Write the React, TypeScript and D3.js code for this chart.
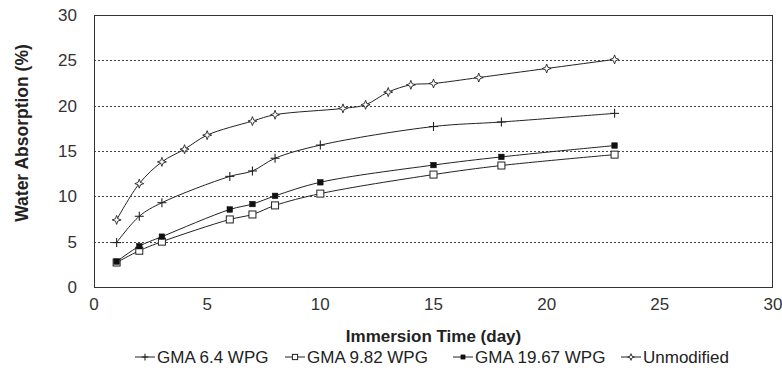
import React from 'react';
import * as d3 from 'd3';

// ---- data ----
const daysGMA = [1, 2, 3, 6, 7, 8, 10, 15, 18, 23];
const gma64 = [4.9, 7.8, 9.3, 12.2, 12.8, 14.2, 15.65, 17.7, 18.2, 19.15];
const gma982 = [2.7, 4.0, 5.0, 7.45, 8.0, 9.0, 10.3, 12.4, 13.4, 14.6];
const gma1967 = [2.8, 4.5, 5.55, 8.55, 9.15, 10.05, 11.55, 13.45, 14.35, 15.6];
const daysUnmod = [1, 2, 3, 4, 5, 7, 8, 11, 12, 13, 14, 15, 17, 20, 23];
const unmod = [7.4, 11.4, 13.8, 15.2, 16.75, 18.3, 19.0, 19.7, 20.1, 21.5, 22.3, 22.45, 23.1, 24.1, 25.1];
const seriesNames = ['GMA 6.4 WPG', 'GMA 9.82 WPG', 'GMA 19.67 WPG', 'Unmodified'];
const xTicks = [0, 5, 10, 15, 20, 25, 30];
const yTicks = [0, 5, 10, 15, 20, 25, 30];
const xTitle = 'Immersion Time (day)';
const yTitle = 'Water Absorption (%)';

// ---- layout ----
const W = 782;
const H = 371;
const left = 94;
const right = 773;
const top = 15;
const bottom = 287;
const legendX = [135, 285, 453, 621];
const FONT = 'Liberation Sans, Arial, sans-serif';
const INK = '#222';

type Kind = 'plus' | 'open' | 'filled' | 'star';
const kinds: Kind[] = ['plus', 'open', 'filled', 'star'];

function Marker({ kind, x, y, s = 1 }: { kind: Kind; x: number; y: number; s?: number }) {
  if (kind === 'plus') {
    const a = 4.5 * s;
    return (
      <g stroke={INK} strokeWidth={1.1}>
        <line x1={x - a} x2={x + a} y1={y} y2={y} />
        <line x1={x} x2={x} y1={y - a} y2={y + a} />
      </g>
    );
  }
  if (kind === 'open') {
    const a = 3.5 * s;
    return <rect x={x - a} y={y - a} width={2 * a} height={2 * a} fill="#fff" stroke={INK} strokeWidth={1} />;
  }
  if (kind === 'filled') {
    const a = 2.8 * s;
    return <rect x={x - a} y={y - a} width={2 * a} height={2 * a} fill="#111" stroke="#111" strokeWidth={0.5} />;
  }
  const r = 4.5 * s;
  const q = 1.2 * s;
  const d = `M${x},${y - r} L${x + q},${y - q} L${x + r},${y} L${x + q},${y + q} L${x},${y + r} L${x - q},${y + q} L${x - r},${y} L${x - q},${y - q} Z`;
  return <path d={d} fill="#fff" stroke={INK} strokeWidth={0.9} />;
}

export default function App() {
  const x = d3.scaleLinear().domain([0, 30]).range([left, right]);
  const y = d3.scaleLinear().domain([0, 30]).range([bottom, top]);

  const series = [
    { name: seriesNames[0], days: daysGMA, vals: gma64, kind: kinds[0] },
    { name: seriesNames[1], days: daysGMA, vals: gma982, kind: kinds[1] },
    { name: seriesNames[2], days: daysGMA, vals: gma1967, kind: kinds[2] },
    { name: seriesNames[3], days: daysUnmod, vals: unmod, kind: kinds[3] },
  ];

  const line = d3
    .line<[number, number]>()
    .x((d) => x(d[0]))
    .y((d) => y(d[1]))
    .curve(d3.curveCatmullRom.alpha(0.5));

  return (
    <svg
      width={W}
      height={H}
      style={{ position: 'absolute', left: 0, top: 0, background: '#fff' }}
      fontFamily={FONT}
    >
      <rect x={0} y={0} width={W} height={H} fill="#fff" />
      {/* gridlines */}
      {yTicks
        .filter((t) => t > 0 && t < 30)
        .map((t) => (
          <line
            key={'g' + t}
            x1={left}
            x2={right}
            y1={Math.round(y(t)) + 0.5}
            y2={Math.round(y(t)) + 0.5}
            stroke="#444"
            strokeWidth={1}
            strokeDasharray="2,2"
          />
        ))}
      {/* frame */}
      <rect
        x={left + 0.5}
        y={top + 0.5}
        width={right - left - 1}
        height={bottom - top}
        fill="none"
        stroke="#333"
        strokeWidth={1}
      />
      {/* y tick labels */}
      {yTicks.map((t) => (
        <text key={'yt' + t} x={77} y={y(t) + 6} textAnchor="end" fontSize={17} fill="#333">
          {t}
        </text>
      ))}
      {/* x tick labels */}
      {xTicks.map((t) => (
        <text key={'xt' + t} x={x(t)} y={310} textAnchor="middle" fontSize={17} fill="#333">
          {t}
        </text>
      ))}
      {/* axis titles */}
      <text
        x={(left + right) / 2}
        y={342}
        textAnchor="middle"
        fontSize={17}
        fontWeight="bold"
        fill={INK}
      >
        {xTitle}
      </text>
      <text
        transform={`translate(28,${133}) rotate(-90)`}
        textAnchor="middle"
        fontSize={17.5}
        fontWeight="bold"
        fill={INK}
      >
        {yTitle}
      </text>
      {/* series */}
      {series.map((s) => {
        const pts: [number, number][] = s.days.map((d, i) => [d, s.vals[i]]);
        return (
          <g key={s.name}>
            <path d={line(pts) || ''} fill="none" stroke={INK} strokeWidth={1} />
            {pts.map((p, i) => (
              <Marker key={i} kind={s.kind} x={x(p[0])} y={y(p[1])} />
            ))}
          </g>
        );
      })}
      {/* legend */}
      {series.map((s, i) => {
        const lx = legendX[i];
        const ly = 357;
        return (
          <g key={'lg' + s.name}>
            <line x1={lx} x2={lx + 20} y1={ly} y2={ly} stroke={INK} strokeWidth={1} />
            <Marker kind={s.kind} x={lx + 10} y={ly} s={0.75} />
            <text x={lx + 22} y={ly + 6} fontSize={17} fill={INK}>
              {s.name}
            </text>
          </g>
        );
      })}
    </svg>
  );
}
